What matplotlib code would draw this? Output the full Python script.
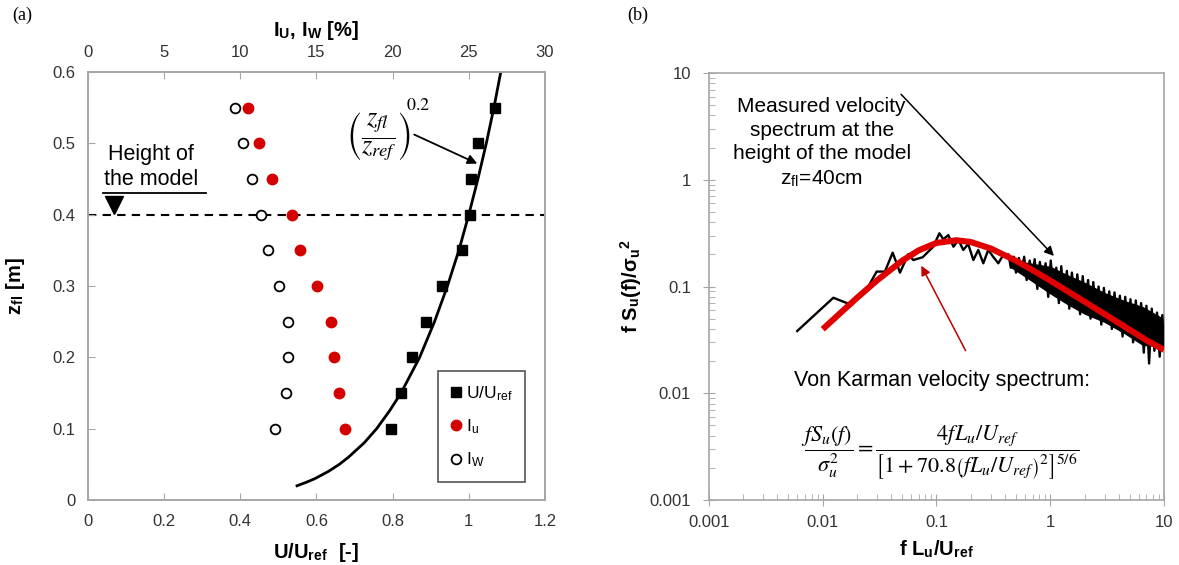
import numpy as np
import matplotlib
matplotlib.use('Agg')
import matplotlib.pyplot as plt
from matplotlib.ticker import FuncFormatter, LogLocator, NullFormatter

plt.rcParams['font.family'] = ['Liberation Sans', 'DejaVu Sans']
plt.rcParams['mathtext.fontset'] = 'stix'

# ---- panel (a): profiles ----
z_pts = [0.55, 0.5, 0.45, 0.4, 0.35, 0.3, 0.25, 0.2, 0.15, 0.1]
u_ratio = [1.068, 1.023, 1.005, 1.004, 0.983, 0.931, 0.889, 0.852, 0.822, 0.795]
Iu = [10.5, 11.25, 12.1, 13.4, 13.9, 15.05, 15.95, 16.15, 16.5, 16.85]
Iw = [9.65, 10.15, 10.75, 11.35, 11.85, 12.55, 13.1, 13.1, 13.0, 12.25]

# power law curve
z_fit = [0.02, 0.025, 0.03, 0.04, 0.05, 0.06, 0.08, 0.1, 0.125, 0.15, 0.2,
         0.25, 0.3, 0.35, 0.4, 0.45, 0.5, 0.55, 0.6]
u_fit = [0.549, 0.574, 0.596, 0.631, 0.660, 0.684, 0.725, 0.758, 0.792, 0.822,
         0.871, 0.910, 0.944, 0.974, 1.0, 1.024, 1.046, 1.066, 1.084]

# ---- panel (b): spectra ----
f_meas = [0.00597, 0.0124, 0.0180, 0.0251, 0.0298, 0.0352, 0.0412, 0.0478, 0.0565,
          0.0625, 0.0756, 0.0877, 0.0938, 0.106, 0.115, 0.127, 0.141, 0.156, 0.172,
          0.19, 0.211, 0.233, 0.258, 0.285, 0.315, 0.349, 0.386]
s_meas = [0.0383, 0.0785, 0.0671, 0.0995, 0.138, 0.138, 0.2075, 0.135, 0.201,
          0.177, 0.188, 0.22, 0.236, 0.315, 0.277, 0.303, 0.236, 0.273, 0.22,
          0.25, 0.177, 0.22, 0.165, 0.22, 0.19, 0.165, 0.197]

f_noise = [0.43, 0.45, 0.48, 0.50, 0.53, 0.56, 0.59, 0.62, 0.66, 0.69, 0.73, 0.77,
           0.81, 0.86, 0.91, 0.96, 1.01, 1.07, 1.13, 1.19, 1.25, 1.32, 1.40, 1.47,
           1.55, 1.64, 1.73, 1.83, 1.93, 2.03, 2.15, 2.26, 2.39, 2.52, 2.66, 2.81,
           2.96, 3.13, 3.30, 3.48, 3.67, 3.88, 4.09, 4.32, 4.56, 4.81, 5.07, 5.35,
           5.65, 5.96, 6.29, 6.64, 7.00, 7.39, 7.80, 8.23, 8.68, 9.16, 9.66, 10.0]
s_noise = [0.20, 0.15, 0.19, 0.135, 0.185, 0.14, 0.19, 0.115, 0.175, 0.12, 0.18, 0.095,
           0.17, 0.10, 0.165, 0.08, 0.175, 0.085, 0.15, 0.07, 0.155, 0.075, 0.14, 0.062,
           0.135, 0.068, 0.13, 0.055, 0.125, 0.06, 0.115, 0.05, 0.11, 0.052, 0.10, 0.044,
           0.097, 0.047, 0.09, 0.04, 0.088, 0.042, 0.082, 0.034, 0.08, 0.036, 0.076, 0.03,
           0.074, 0.031, 0.07, 0.024, 0.066, 0.019, 0.062, 0.025, 0.057, 0.022, 0.054, 0.026]

# dense core of the noisy record
f_band = [0.45, 0.7, 1.0, 1.4, 2.0, 3.0, 4.5, 6.5, 10.0]
s_upper = [0.18, 0.165, 0.155, 0.13, 0.11, 0.088, 0.074, 0.065, 0.05]
s_lower = [0.15, 0.11, 0.085, 0.068, 0.055, 0.046, 0.036, 0.028, 0.027]

f_vk = [0.01, 0.015, 0.02, 0.03, 0.05, 0.07, 0.1, 0.15, 0.2, 0.3, 0.5, 0.7,
        1.0, 1.5, 2.0, 3.0, 5.0, 7.0, 10.0]
s_vk = [0.0398, 0.0592, 0.0782, 0.114, 0.1746, 0.2185, 0.256, 0.2712, 0.2612,
        0.2271, 0.1742, 0.1423, 0.1136, 0.0872, 0.0722, 0.0552, 0.0393, 0.0314, 0.0255]

fig = plt.figure(figsize=(11.79, 5.65), dpi=100)
spine_c = '#a6a6a6'
tick_c = '#333333'

# ================= (a) =================
ax = fig.add_axes([0.0746, 0.115, 0.3876, 0.7575])
ax.set_xlim(0, 1.2)
ax.set_ylim(0, 0.6)
ax.set_xticks(np.arange(0, 1.21, 0.2))
ax.set_yticks(np.arange(0, 0.61, 0.1))
ax.xaxis.set_major_formatter(FuncFormatter(lambda v, p: '%g' % round(v, 1)))
ax.yaxis.set_major_formatter(FuncFormatter(lambda v, p: '%g' % round(v, 1)))
ax.tick_params(direction='in', length=5, color=spine_c, labelsize=12,
               labelcolor=tick_c)
ax.tick_params(axis='x', pad=10)
ax.tick_params(axis='y', pad=9)
for s in ax.spines.values():
    s.set_color(spine_c)
    s.set_linewidth(1.2)

ax.plot(u_fit, z_fit, color='black', lw=2, zorder=2)
h_u, = ax.plot(u_ratio, z_pts, 's', color='black', ms=6.5, zorder=4,
               label=r'U/U$_\mathregular{ref}$')
ax.axhline(0.4, color='black', lw=1.5, ls=(0, (4, 3)), zorder=1)

ax.set_xlabel(r'U/U$_\mathregular{ref}$  [-]', fontsize=14.5, fontweight='bold', labelpad=9)
ax.set_ylabel(r'z$_\mathregular{fl}$ [m]', fontsize=14.5, fontweight='bold')
ax.yaxis.set_label_coords(-0.133, 0.5)

# model height marker
ax.plot([0.04, 0.31], [0.431, 0.431], color='black', lw=1.3)
ax.plot([0.068], [0.414], marker='v', color='black', ms=13)
ax.text(0.053, 0.485, 'Height of', fontsize=15.5, ha='left', va='center')
ax.text(0.042, 0.45, 'the model', fontsize=15.5, ha='left', va='center')

ax.annotate('', xy=(1.029, 0.47), xytext=(0.85, 0.514),
            arrowprops=dict(arrowstyle='-|>', color='black', lw=1.3,
                            mutation_scale=14))
ax.text(0.762, 0.51, r'$\left(\dfrac{z_{fl}}{z_{ref}}\right)$', fontsize=19,
        ha='center', va='center')
ax.text(0.868, 0.553, r'$0.2$', fontsize=13, ha='center', va='center')

ax2 = ax.twiny()
ax2.set_xlim(0, 30)
ax2.set_xticks(np.arange(0, 31, 5))
ax2.tick_params(direction='in', length=5, color=spine_c, labelsize=12,
                labelcolor=tick_c, pad=9)
for s in ax2.spines.values():
    s.set_color(spine_c)
    s.set_linewidth(1.2)
h_iu, = ax2.plot(Iu, z_pts, 'o', color='#d40000', ms=7.5, zorder=4,
                 label=r'I$_\mathregular{u}$')
h_iw, = ax2.plot(Iw, z_pts, 'o', mfc='white', mec='black', mew=1.3, ms=7, zorder=4,
                 label=r'I$_\mathregular{W}$')
ax2.set_xlabel(r'I$_\mathregular{U}$, I$_\mathregular{W}$ [%]', fontsize=14.5,
               fontweight='bold', labelpad=6)
leg = ax2.legend(handles=[h_u, h_iu, h_iw], loc='lower left',
                 bbox_to_anchor=(0.766, 0.042), fancybox=False, framealpha=1,
                 edgecolor='#555555', fontsize=12.5, handlelength=0.6,
                 handletextpad=0.25, labelspacing=0.85, borderpad=0.75,
                 borderaxespad=0)
leg.get_frame().set_linewidth(1.2)

fig.text(0.010, 0.972, '(a)', fontsize=13, family=['Liberation Serif'], va='center')

# ================= (b) =================
bx = fig.add_axes([0.6013, 0.115, 0.3860, 0.7558])
bx.set_xscale('log')
bx.set_yscale('log')
bx.set_xlim(0.001, 10)
bx.set_ylim(0.001, 10)
fmt = FuncFormatter(lambda v, p: '%g' % v)
bx.xaxis.set_major_formatter(fmt)
bx.yaxis.set_major_formatter(fmt)
bx.xaxis.set_minor_locator(LogLocator(base=10, subs=np.arange(2, 10)))
bx.yaxis.set_minor_locator(LogLocator(base=10, subs=np.arange(2, 10)))
bx.xaxis.set_minor_formatter(NullFormatter())
bx.yaxis.set_minor_formatter(NullFormatter())
bx.tick_params(which='major', direction='inout', length=8, color=spine_c,
               labelsize=12, labelcolor=tick_c)
bx.tick_params(axis='x', which='major', pad=7)
bx.tick_params(axis='y', which='major', pad=9)
bx.tick_params(which='minor', direction='in', length=4, color=spine_c)
for s in bx.spines.values():
    s.set_color(spine_c)
    s.set_linewidth(1.2)

bx.fill_between(f_band, s_lower, s_upper, color='black', lw=0, zorder=2)
bx.plot(f_meas + f_noise, s_meas + s_noise, color='black', lw=1.7, zorder=3)
bx.plot(f_vk, s_vk, color='#e00000', lw=4.4, solid_capstyle='butt', zorder=4)

bx.set_xlabel(r'f L$_\mathregular{u}$/U$_\mathregular{ref}$', fontsize=14.5,
              fontweight='bold', labelpad=6)
bx.set_ylabel(r'f S$_\mathregular{u}$(f)/$\mathregular{\sigma_u}^\mathregular{2}$',
              fontsize=14.5, fontweight='bold')
bx.yaxis.set_label_coords(-0.143, 0.5)

bx.text(0.0098, 2.2, 'Measured velocity\nspectrum at the\nheight of the model\n'
        r'z$_\mathregular{fl}$=40cm', fontsize=15, ha='center', va='center',
        linespacing=1.3)
bx.annotate('', xy=(1.12, 0.185), xytext=(0.047, 6.6),
            arrowprops=dict(arrowstyle='-|>', color='black', lw=1.1,
                            mutation_scale=14))
bx.annotate('', xy=(0.0716, 0.165), xytext=(0.185, 0.0238),
            arrowprops=dict(arrowstyle='-|>', color='#c00000', lw=1.1,
                            mutation_scale=14))
bx.text(0.112, 0.0133, 'Von Karman velocity spectrum:', fontsize=15.5,
        ha='center', va='center')
bx.text(0.108, 0.0028,
        r'$\dfrac{fS_u(f)}{\sigma_u^2}=\dfrac{4fL_u/U_{ref}}'
        r'{\left[1+70.8\left(fL_u/U_{ref}\right)^2\right]^{5/6}}$',
        fontsize=16, ha='center', va='center')

fig.text(0.532, 0.972, '(b)', fontsize=13, family=['Liberation Serif'], va='center')

fig.savefig('out.png', dpi=100)
